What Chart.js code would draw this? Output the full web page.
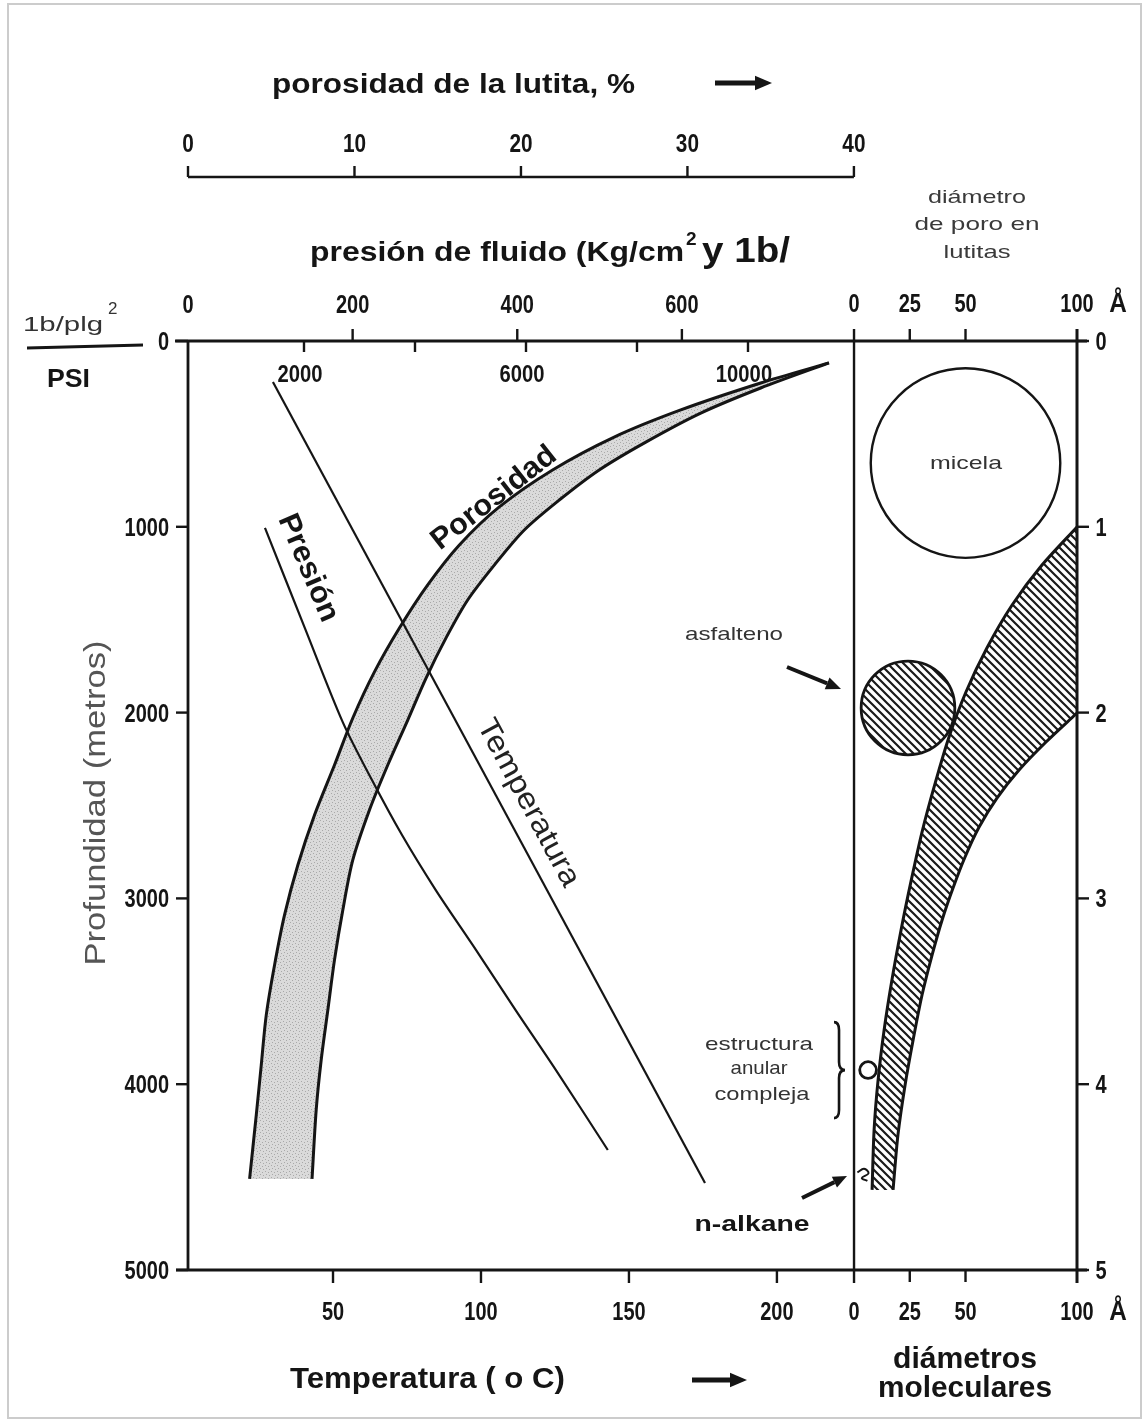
<!DOCTYPE html>
<html>
<head>
<meta charset="utf-8">
<script src="https://cdn.jsdelivr.net/npm/chart.js@4.4.0/dist/chart.umd.min.js"></script>
<style>
    html, body { margin: 0; padding: 0; background: #fff; }
    #grafico { display: block; }
</style>
</head>
<body>
<canvas id="grafico" width="1147" height="1425"></canvas>
<script>
// ticks de los ejes
const profundidadTicks = [0, 1000, 2000, 3000, 4000, 5000];
const temperaturaTicks = [50, 100, 150, 200];
const kgTicks = [0, 200, 400, 600];
const psiTicks = [2000, 4000, 6000, 8000, 10000];
const psiLabels = ['2000', '', '6000', '', '10000'];
const porosidadTicks = [0, 10, 20, 30, 40];
const diametroTicks = [0, 25, 50, 100];
const kmTicks = [0, 1, 2, 3, 4, 5];

// porosidad de la lutita (%) vs profundidad (m): borde exterior e interior de la banda
const porExtX = [38.5, 34.4, 29.6, 25.6, 21.9, 18.7, 16.3, 14.4, 12.7, 11.2, 9.9, 8.8, 7.6, 6.6, 5.8, 5.2, 4.7, 4.4, 4.1, 3.7];
const porExtProf = [118, 226, 371, 517, 694, 893, 1098, 1313, 1545, 1781, 2029, 2282, 2551, 2820, 3089, 3358, 3628, 3897, 4166, 4510];
const porIntX = [38.5, 34.4, 30.8, 27.5, 24.7, 22.3, 20.2, 18.4, 16.8, 15.5, 14.3, 13.2, 12.0, 10.9, 9.9, 9.3, 8.8, 8.4, 8.0, 7.7, 7.45];
const porIntProf = [118, 253, 388, 544, 694, 856, 1017, 1206, 1394, 1598, 1814, 2040, 2282, 2524, 2793, 3062, 3331, 3601, 3870, 4139, 4510];

// temperatura (oC) vs profundidad (m)
const temperaturaX = [29.7, 175.7];
const temperaturaProf = [221, 4532];

// presión de fluido (kg/cm2) vs profundidad (m)
const presionKg = [93.5, 142, 188, 223.5, 260, 301, 350, 398, 447, 510];
const presionProf = [1006, 1545, 2051, 2363, 2659, 2955, 3278, 3601, 3924, 4354];

// diámetro de poro en lutitas (Å) vs profundidad (km)
const bandaSupA = [100, 84.3, 70.9, 59.6, 50.2, 42.6, 36.3, 30.5, 25.6, 21.1, 17.0, 13.5, 10.8, 9.0, 8.1];
const bandaSupKm = [1.001, 1.206, 1.421, 1.652, 1.889, 2.131, 2.384, 2.643, 2.906, 3.170, 3.439, 3.708, 3.977, 4.247, 4.569];
const bandaInfA = [100, 86.1, 74.0, 64.1, 56.1, 49.8, 44.4, 39.5, 35.0, 30.5, 26.5, 22.9, 19.7, 17.5];
const bandaInfKm = [2.002, 2.158, 2.309, 2.460, 2.616, 2.777, 2.944, 3.116, 3.305, 3.520, 3.762, 4.004, 4.273, 4.569];

// diámetros moleculares: micela, asfalteno, estructura anular compleja
const circuloA = [50, 24.2, 6.3];
const circuloKm = [0.657, 1.975, 3.924];
const circuloD = [85, 42, 7.5];

// n-alkane
const alcanoA = [1.5, 4.5, 6.5, 3.5, 6.0];
const alcanoKm = [4.475, 4.455, 4.48, 4.505, 4.52];

const F = '"Liberation Sans", Arial, Helvetica, sans-serif';
const NEGRO = '#151515';

const puntos = (xs, ys) => xs.map((x, i) => ({ x: x, y: ys[i] }));

// patrón rayado
function rayado() {
    const cv = document.createElement('canvas');
    cv.width = 8; cv.height = 8;
    const g = cv.getContext('2d');
    g.strokeStyle = '#1a1a1a';
    g.lineWidth = 2.2;
    g.beginPath();
    g.moveTo(-2, -2); g.lineTo(10, 10);
    g.moveTo(-2, 6); g.lineTo(2, 10);
    g.moveTo(6, -2); g.lineTo(10, 2);
    g.stroke();
    return g.createPattern(cv, 'repeat');
}

// patrón punteado
function punteado() {
    const cv = document.createElement('canvas');
    cv.width = 6; cv.height = 6;
    const g = cv.getContext('2d');
    g.fillStyle = '#dadada';
    g.fillRect(0, 0, 6, 6);
    g.fillStyle = '#a9a9a9';
    g.fillRect(1, 1, 1, 1);
    g.fillRect(4, 2, 1, 1);
    g.fillRect(2, 4, 1, 1);
    g.fillRect(5, 5, 1, 1);
    return g.createPattern(cv, 'repeat');
}

function linea(c, x1, y1, x2, y2) {
    c.beginPath();
    c.moveTo(x1, y1);
    c.lineTo(x2, y2);
    c.stroke();
}

function texto(c, str, x, y, font, opt) {
    opt = opt || {};
    c.save();
    c.font = font;
    c.fillStyle = opt.color || NEGRO;
    c.textAlign = opt.align || 'center';
    c.textBaseline = opt.base || 'alphabetic';
    c.translate(x, y);
    if (opt.rot) c.rotate(opt.rot * Math.PI / 180);
    let sx = opt.sx || 1;
    if (opt.width) sx = opt.width / c.measureText(str).width;
    c.scale(sx, 1);
    c.fillText(str, 0, 0);
    c.restore();
}

function flecha(c, x1, y1, x2, y2, w, head) {
    const a = Math.atan2(y2 - y1, x2 - x1);
    const bx = x2 - head * Math.cos(a), by = y2 - head * Math.sin(a);
    const ox = head * 0.42 * Math.sin(a), oy = head * 0.42 * Math.cos(a);
    c.save();
    c.strokeStyle = NEGRO;
    c.fillStyle = NEGRO;
    c.lineWidth = w;
    linea(c, x1, y1, bx, by);
    c.beginPath();
    c.moveTo(x2, y2);
    c.lineTo(bx + ox, by - oy);
    c.lineTo(bx - ox, by + oy);
    c.closePath();
    c.fill();
    c.restore();
}

const radioPx = (chart, d) => {
    const s = chart.scales.diam;
    return (s.getPixelForValue(d) - s.getPixelForValue(0)) / 2;
};

// fondo blanco y marco de la página
const fondo = {
    id: 'fondo',
    beforeDraw(chart) {
        const c = chart.ctx;
        c.save();
        c.fillStyle = '#fff';
        c.fillRect(0, 0, chart.width, chart.height);
        c.strokeStyle = '#cccccc';
        c.lineWidth = 2;
        c.strokeRect(8, 4, 1133, 1414);
        c.restore();
    }
};

// ejes, ticks y textos
const ejes = {
    id: 'ejes',
    afterDatasetsDraw(chart) {
        const c = chart.ctx, s = chart.scales, a = chart.chartArea;
        const tick = `bold 25px ${F}`;
        const x0 = s.diam.getPixelForValue(0);
        const x100 = s.diam.getPixelForValue(100);
        c.save();
        c.strokeStyle = NEGRO;
        c.lineCap = 'butt';

        // marco
        c.lineWidth = 2.8;
        linea(c, a.left - 13, a.top, x100 + 10, a.top);
        linea(c, a.left, a.top, a.left, a.bottom);
        linea(c, a.left - 12, a.bottom, x100 + 10, a.bottom);
        c.lineWidth = 2.4;
        linea(c, x0, a.top - 12, x0, a.bottom + 13);
        c.lineWidth = 3;
        linea(c, x100, a.top - 12, x100, a.bottom + 13);
        c.lineWidth = 2.4;

        // profundidad (izquierda)
        profundidadTicks.forEach(v => {
            const y = s.prof.getPixelForValue(v);
            linea(c, a.left - 12, y, a.left, y);
            texto(c, String(v), a.left - 19, y + 9, tick, { align: 'right', sx: 0.8 });
        });
        // km (derecha)
        kmTicks.forEach(v => {
            const y = s.km.getPixelForValue(v);
            linea(c, x100, y, x100 + 12, y);
            texto(c, String(v), x100 + 24, y + 9, tick, { sx: 0.8 });
        });
        // temperatura (abajo)
        temperaturaTicks.forEach(v => {
            const x = s.temp.getPixelForValue(v);
            linea(c, x, a.bottom, x, a.bottom + 13);
            texto(c, String(v), x, 1320, tick, { sx: 0.8 });
        });
        // diámetros (abajo y arriba)
        diametroTicks.forEach(v => {
            const x = s.diam.getPixelForValue(v);
            if (v > 0 && v < 100) {
                linea(c, x, a.bottom, x, a.bottom + 12);
                linea(c, x, a.top - 12, x, a.top);
            }
            texto(c, String(v), x, 1320, tick, { sx: 0.8 });
            texto(c, String(v), x, 312, tick, { sx: 0.8 });
        });
        texto(c, 'Å', x100 + 41, 1320, `bold 27px ${F}`, { sx: 0.9 });
        texto(c, 'Å', x100 + 41, 312, `bold 27px ${F}`, { sx: 0.9 });

        // presión kg/cm2 (arriba)
        kgTicks.forEach(v => {
            const x = s.kg.getPixelForValue(v);
            if (v > 0) linea(c, x, a.top - 12, x, a.top);
            texto(c, String(v), x, 313, tick, { sx: 0.8 });
        });
        // presión PSI (dentro)
        psiTicks.forEach((v, i) => {
            const x = s.psi.getPixelForValue(v);
            linea(c, x, a.top, x, a.top + 11);
            if (psiLabels[i]) texto(c, psiLabels[i], x - 4, 382, `bold 23px ${F}`, { sx: 0.88 });
        });
        // porosidad (eje superior)
        const yp = 177;
        linea(c, s.poro.getPixelForValue(0), yp, s.poro.getPixelForValue(40), yp);
        porosidadTicks.forEach(v => {
            const x = s.poro.getPixelForValue(v);
            linea(c, x, yp - 11, x, yp);
            texto(c, String(v), x, 152, `bold 26px ${F}`, { sx: 0.8 });
        });

        // etiqueta PSI a la izquierda
        texto(c, '1b/plg', 23, 331, `21px ${F}`, { align: 'left', width: 80, color: '#333' });
        texto(c, '2', 108, 314, `17px ${F}`, { align: 'left', color: '#333' });
        c.lineWidth = 3;
        linea(c, 27, 348, 143, 345);
        texto(c, 'PSI', 47, 387, `bold 26px ${F}`, { align: 'left', width: 43 });

        // títulos
        texto(c, 'porosidad de la lutita, %', 272, 93, `bold 28px ${F}`, { align: 'left', width: 363 });
        flecha(c, 715, 83, 772, 83, 5, 17);
        texto(c, 'presión de fluido (Kg/cm', 310, 261, `bold 28px ${F}`, { align: 'left', width: 374 });
        texto(c, '2', 686, 245, `bold 19px ${F}`, { align: 'left' });
        texto(c, 'y 1b/', 702, 262, `bold 35px ${F}`, { align: 'left', width: 88 });
        texto(c, 'diámetro', 977, 203, `19px ${F}`, { width: 98, color: '#3a3a3a' });
        texto(c, 'de poro en', 977, 230, `19px ${F}`, { width: 125, color: '#3a3a3a' });
        texto(c, 'lutitas', 977, 258, `19px ${F}`, { width: 67, color: '#3a3a3a' });

        texto(c, 'Temperatura ( o C)', 290, 1388, `bold 29px ${F}`, { align: 'left', width: 275 });
        flecha(c, 692, 1380, 747, 1380, 5, 17);
        texto(c, 'diámetros', 965, 1368, `bold 29px ${F}`, { width: 144 });
        texto(c, 'moleculares', 965, 1397, `bold 29px ${F}`, { width: 174 });

        texto(c, 'Profundidad (metros)', 97, 803, `30px ${F}`,
            { rot: -90, base: 'middle', width: 325, color: '#555' });

        // rótulos de curvas
        texto(c, 'Porosidad', 494, 498, `bold 30px ${F}`, { rot: -38, base: 'middle', width: 150 });
        texto(c, 'Presión', 308, 568, `bold 30px ${F}`, { rot: 67, base: 'middle', width: 114 });
        texto(c, 'Temperatura', 528, 803, `30px ${F}`, { rot: 61.7, base: 'middle', width: 186, color: '#222' });

        // panel derecho
        texto(c, 'micela', 966, 469, `19px ${F}`, { width: 72, color: '#333' });
        texto(c, 'asfalteno', 734, 640, `19px ${F}`, { width: 98, color: '#333' });
        flecha(c, 787, 667, 841, 689, 4, 15);
        texto(c, 'estructura', 759, 1050, `19px ${F}`, { width: 108, color: '#333' });
        texto(c, 'anular', 759, 1074, `19px ${F}`, { width: 57, color: '#333' });
        texto(c, 'compleja', 762, 1100, `19px ${F}`, { width: 95, color: '#333' });
        texto(c, 'n-alkane', 752, 1231, `bold 22px ${F}`, { width: 115 });
        flecha(c, 802, 1198, 847, 1176, 4, 14);

        // llave de la estructura anular
        const yc = s.km.getPixelForValue(circuloKm[2]);
        const xb = x0 - 15;
        c.lineWidth = 2.6;
        c.beginPath();
        c.moveTo(xb - 5, yc - 48);
        c.quadraticCurveTo(xb, yc - 48, xb, yc - 40);
        c.lineTo(xb, yc - 8);
        c.quadraticCurveTo(xb, yc, xb + 6, yc);
        c.quadraticCurveTo(xb, yc, xb, yc + 8);
        c.lineTo(xb, yc + 40);
        c.quadraticCurveTo(xb, yc + 48, xb - 5, yc + 48);
        c.stroke();

        c.restore();
    }
};

const hatch = rayado();

const datasets = [
    // porosidad
    {
        data: puntos(porExtX, porExtProf), xAxisID: 'poro', yAxisID: 'prof',
        showLine: true, borderColor: NEGRO, borderWidth: 3, pointRadius: 0, tension: 0.3, order: 1
    },
    {
        data: puntos(porIntX, porIntProf), xAxisID: 'poro', yAxisID: 'prof',
        showLine: true, borderColor: NEGRO, borderWidth: 3, pointRadius: 0, tension: 0.3, order: 1
    },
    {
        data: puntos(porExtX, porExtProf).concat(puntos(porIntX, porIntProf).reverse()),
        xAxisID: 'poro', yAxisID: 'prof', showLine: true, borderColor: 'rgba(0,0,0,0)', borderWidth: 1,
        backgroundColor: punteado(), fill: 'shape', pointRadius: 0, tension: 0, order: 3
    },
    // temperatura
    {
        data: puntos(temperaturaX, temperaturaProf), xAxisID: 'temp', yAxisID: 'prof',
        showLine: true, borderColor: NEGRO, borderWidth: 2.2, pointRadius: 0, order: 1
    },
    // presión
    {
        data: puntos(presionKg, presionProf), xAxisID: 'kg', yAxisID: 'prof',
        showLine: true, borderColor: NEGRO, borderWidth: 2.2, pointRadius: 0, tension: 0.3, order: 1
    },
    // banda de diámetro de poro
    {
        data: puntos(bandaSupA, bandaSupKm), xAxisID: 'diam', yAxisID: 'km',
        showLine: true, borderColor: NEGRO, borderWidth: 3, pointRadius: 0, tension: 0.3, order: 1
    },
    {
        data: puntos(bandaInfA, bandaInfKm), xAxisID: 'diam', yAxisID: 'km',
        showLine: true, borderColor: NEGRO, borderWidth: 3, pointRadius: 0, tension: 0.3, order: 1
    },
    {
        data: puntos(bandaSupA, bandaSupKm).concat(puntos(bandaInfA, bandaInfKm).reverse()),
        xAxisID: 'diam', yAxisID: 'km', showLine: true, borderColor: 'rgba(0,0,0,0)', borderWidth: 1,
        backgroundColor: hatch, fill: 'shape', pointRadius: 0, tension: 0, order: 3
    },
    // micela
    {
        data: [{ x: circuloA[0], y: circuloKm[0] }], xAxisID: 'diam', yAxisID: 'km',
        pointRadius: ctx => radioPx(ctx.chart, circuloD[0]), pointHoverRadius: ctx => radioPx(ctx.chart, circuloD[0]),
        pointBackgroundColor: 'rgba(0,0,0,0)', pointBorderColor: NEGRO, pointBorderWidth: 2.4, order: 1
    },
    // asfalteno
    {
        data: [{ x: circuloA[1], y: circuloKm[1] }], xAxisID: 'diam', yAxisID: 'km',
        pointRadius: ctx => radioPx(ctx.chart, circuloD[1]), pointHoverRadius: ctx => radioPx(ctx.chart, circuloD[1]),
        pointBackgroundColor: hatch, pointBorderColor: NEGRO, pointBorderWidth: 2.8, order: 1
    },
    // estructura anular compleja
    {
        data: [{ x: circuloA[2], y: circuloKm[2] }], xAxisID: 'diam', yAxisID: 'km',
        pointRadius: ctx => radioPx(ctx.chart, circuloD[2]), pointHoverRadius: ctx => radioPx(ctx.chart, circuloD[2]),
        pointBackgroundColor: 'rgba(0,0,0,0)', pointBorderColor: NEGRO, pointBorderWidth: 2.8, order: 1
    },
    // n-alkane
    {
        data: puntos(alcanoA, alcanoKm), xAxisID: 'diam', yAxisID: 'km',
        showLine: true, borderColor: NEGRO, borderWidth: 2, pointRadius: 0, tension: 0.4, order: 1
    }
];

new Chart(document.getElementById('grafico'), {
    type: 'scatter',
    data: { datasets: datasets },
    options: {
        responsive: false,
        animation: false,
        events: [],
        layout: { padding: { left: 188, right: 70, top: 341, bottom: 155 } },
        plugins: { legend: { display: false }, tooltip: { enabled: false } },
        scales: {
            temp: { type: 'linear', axis: 'x', position: 'bottom', display: false, min: 1, max: 301.4 },
            kg: { type: 'linear', axis: 'x', position: 'top', display: false, min: 0, max: 1080 },
            psi: { type: 'linear', axis: 'x', position: 'top', display: false, min: -90, max: 15928 },
            poro: { type: 'linear', axis: 'x', position: 'top', display: false, min: 0, max: 53.4 },
            diam: { type: 'linear', axis: 'x', position: 'bottom', display: false, min: -298.7, max: 100 },
            prof: { type: 'linear', axis: 'y', position: 'left', display: false, min: 0, max: 5000, reverse: true },
            km: { type: 'linear', axis: 'y', position: 'right', display: false, min: 0, max: 5, reverse: true }
        }
    },
    plugins: [fondo, ejes]
});
</script>
</body>
</html>
